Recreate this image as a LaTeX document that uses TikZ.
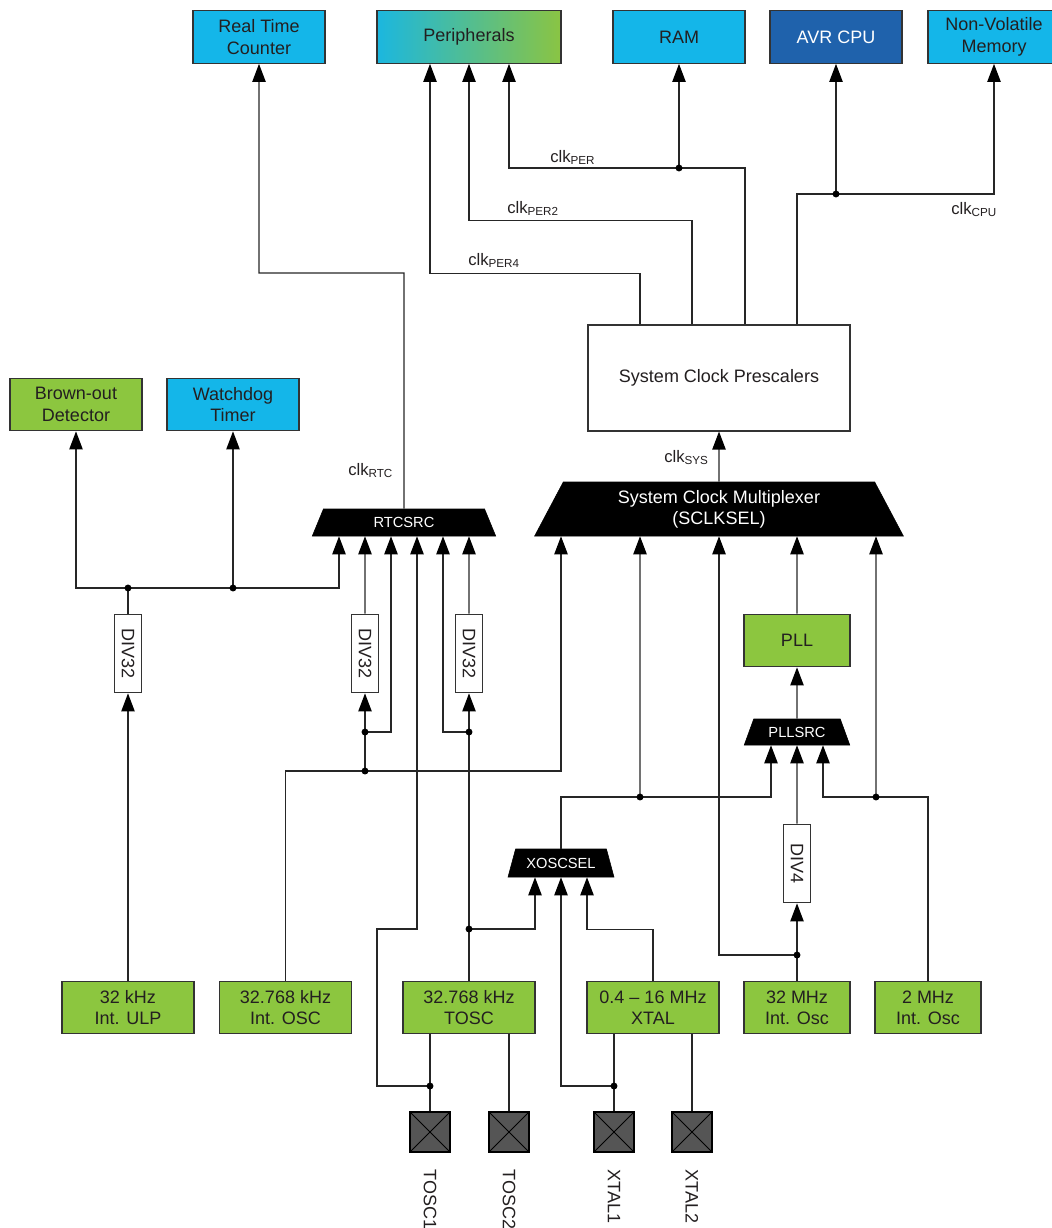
\documentclass[tikz,border=0pt]{standalone}
\usepackage{fontspec}
\setmainfont{Liberation Sans}
\usepackage{graphicx}
\usetikzlibrary{arrows.meta,shapes.geometric,calc}

\definecolor{mchpblue}{HTML}{14B6E9}
\definecolor{mchpgreen}{HTML}{8CC63F}
\definecolor{cpublue}{HTML}{1F62AC}
\definecolor{percyan}{HTML}{1BB7DF}
\definecolor{pergreen}{HTML}{8AC443}
\definecolor{padgray}{HTML}{555555}
\definecolor{txt}{HTML}{231F20}

\newcommand{\clksub}[1]{clk\textsubscript{#1}}

\begin{document}
\begin{tikzpicture}[x=0.75pt, y=-0.75pt, >={Triangle[width=10pt,length=13.5pt,color=black]},
    every node/.style={font=\fontsize{13.5}{16}\selectfont, text=txt},
    box/.style={rectangle, draw=black!80, line width=0.8pt, align=center, inner sep=0pt, minimum width=99pt, minimum height=39.5pt},
    blue box/.style={box, fill=mchpblue},
    green box/.style={box, fill=mchpgreen},
    div box/.style={box, fill=white, minimum width=20pt, minimum height=59pt},
    pad box/.style={rectangle, draw=black, fill=padgray, line width=0.8pt, minimum size=30pt, inner sep=0pt},
    pad label/.style={rotate=-90, anchor=west, inner sep=0pt},
    mux/.style={trapezium, trapezium stretches=true, fill=black, draw=black, text=white, align=center, inner sep=0pt},
    small mux/.style={mux, font=\fontsize{11}{13}\selectfont},
    clk label/.style={anchor=base west, inner sep=0pt, font=\fontsize{12.5}{15}\selectfont},
    wire/.style={draw=black!85, line width=0.9pt},
    feed/.style={wire, ->}]
    \useasboundingbox (0,0) rectangle (1052,1228);

    % consumers
    \node[blue box] (rtc) at (259,37) {Real Time\\Counter};
    \node[box, left color=percyan, right color=pergreen, minimum width=138pt] (per) at (469,37) {Peripherals};
    \node[blue box] (ram) at (679,37) {RAM};
    \node[box, fill=cpublue, text=white] (cpu) at (836,37) {AVR CPU};
    \node[blue box] (nvm) at (994,37) {Non-Volatile\\Memory};
    \node[box, fill=white, minimum width=196.5pt, minimum height=79.5pt] (presc) at (719,378) {System Clock Prescalers};
    \node[green box] (bod) at (76,404.5) {Brown-out\\Detector};
    \node[blue box] (wdt) at (233,404.5) {Watchdog\\Timer};

    % multiplexers and dividers
    \node[mux, minimum width=276.75pt, minimum height=40.5pt, trapezium left angle=64, trapezium right angle=64] (sysmux) at (719,509) {System Clock Multiplexer\\(SCLKSEL)};
    \node[small mux, minimum width=138pt, minimum height=20.25pt, trapezium left angle=68, trapezium right angle=68] (rtcsrc) at (404,522.5) {RTCSRC};
    \node[green box, minimum width=79.5pt] (pll) at (797,640.5) {PLL};
    \node[small mux, minimum width=79.5pt, minimum height=19.5pt, trapezium left angle=59, trapezium right angle=59] (pllsrc) at (797,732) {PLLSRC};
    \node[small mux, minimum width=79.5pt, minimum height=21pt, trapezium left angle=61, trapezium right angle=61] (xoscsel) at (561,863) {XOSCSEL};
    \node[div box] (div32a) at (128,653.5) {\rotatebox{-90}{DIV32}};
    \node[div box] (div32b) at (365,653.5) {\rotatebox{-90}{DIV32}};
    \node[div box] (div32c) at (469,653.5) {\rotatebox{-90}{DIV32}};
    \node[div box] (div4) at (797,863.5) {\rotatebox{-90}{DIV4}};

    % clock sources
    \node[green box] (ulp) at (128,1007.5) {32 kHz\\Int. ULP};
    \node[green box] (osc) at (285.5,1007.5) {32.768 kHz\\Int. OSC};
    \node[green box] (tosc) at (469,1007.5) {32.768 kHz\\TOSC};
    \node[green box] (xtal) at (653,1007.5) {0.4 -- 16 MHz\\XTAL};
    \node[green box, minimum width=79.5pt] (osc32m) at (797,1007.5) {32 MHz\\Int. Osc};
    \node[green box, minimum width=79.5pt] (osc2m) at (928,1007.5) {2 MHz\\Int. Osc};

    % pins
    \node[pad box] (tosc1) at (430,1132) {};
    \node[pad box] (tosc2) at (509,1132) {};
    \node[pad box] (xtal1) at (614,1132) {};
    \node[pad box] (xtal2) at (692,1132) {};
    \foreach \p in {tosc1,tosc2,xtal1,xtal2}
        \draw[line width=0.6pt] (\p.north west) -- (\p.south east) (\p.north east) -- (\p.south west);
    \node[pad label] (ltosc1) at ($(tosc1.south)+(0,17)$) {TOSC1};
    \node[pad label] (ltosc2) at ($(tosc2.south)+(0,17)$) {TOSC2};
    \node[pad label] (lxtal1) at ($(xtal1.south)+(0,17)$) {XTAL1};
    \node[pad label] (lxtal2) at ($(xtal2.south)+(0,17)$) {XTAL2};

    % clock labels
    \node[clk label] (lper) at (550,162) {\clksub{PER}};
    \node[clk label] (lper2) at (507,213) {\clksub{PER2}};
    \node[clk label] (lper4) at (468,265) {\clksub{PER4}};
    \node[clk label] (lcpu) at (951,214) {\clksub{CPU}};
    \node[clk label] (lsys) at (664,462) {\clksub{SYS}};
    \node[clk label] (lrtc) at (348,475) {\clksub{RTC}};

    % junctions
    \coordinate (jram) at (679,168);
    \coordinate (jcpu) at (836,194);
    \coordinate (krtc) at (404,273);
    \coordinate (jbod) at (128,588);
    \coordinate (jwdt) at (233,588);
    \coordinate (josc) at (365,771);
    \coordinate (jdivb) at (365,732);
    \coordinate (jtosc) at (469,929);
    \coordinate (jdivc) at (469,732);
    \coordinate (jt1) at (430,1086);
    \coordinate (kt1) at (377,929);
    \coordinate (jx1) at (614,1086);
    \coordinate (jxo) at (640,797);
    \coordinate (j32m) at (797,955);
    \coordinate (j2m) at (876,797);

    % prescaler outputs
    \draw[feed] ($(presc.north)+(26,0)$) |- (jram) -| ($(per.south)+(40,0)$);
    \draw[feed] (jram) -- (ram.south);
    \draw[feed] ($(presc.north)+(-27,0)$) |- ($(per.south)+(0,157)$) -- (per.south);
    \draw[feed] ($(presc.north)+(-79,0)$) |- ($(per.south)+(-39,210)$) -- ($(per.south)+(-39,0)$);
    \draw[feed] ($(presc.north)+(78,0)$) |- (jcpu) -| (nvm.south);
    \draw[feed] (jcpu) -- (cpu.south);
    \draw[feed] (sysmux.north) -- (presc.south);
    \draw[feed] (rtcsrc.north) -- (krtc) -| (rtc.south);

    % RTC clock sources
    \draw[feed] (ulp.north) -- (div32a.south);
    \draw[wire] (div32a.north) -- (jbod);
    \draw[feed] (jbod) -| (bod.south);
    \draw[feed] (jbod) -| ($(rtcsrc.south)+(-65,0)$);
    \draw[feed] (jwdt) -- (wdt.south);
    \draw[feed] (osc.north) |- (josc) -| ($(sysmux.south)+(-158,0)$);
    \draw[feed] (josc) -- (div32b.south);
    \draw[feed] (jdivb) -| ($(rtcsrc.south)+(-13,0)$);
    \draw[feed] (div32b.north) -- ($(rtcsrc.south)+(-39,0)$);
    \draw[feed] (tosc.north) -- (div32c.south);
    \draw[feed] (jdivc) -| ($(rtcsrc.south)+(39,0)$);
    \draw[feed] (div32c.north) -- ($(rtcsrc.south)+(65,0)$);
    \draw[feed] (jtosc) -| ($(xoscsel.south)+(-26,0)$);

    % crystal pins
    \draw[wire] ($(tosc.south)+(-39,0)$) -- (tosc1.north);
    \draw[wire] ($(tosc.south)+(40,0)$) -- (tosc2.north);
    \draw[feed] (jt1) -| (kt1) -| ($(rtcsrc.south)+(13,0)$);
    \draw[wire] ($(xtal.south)+(-39,0)$) -- (xtal1.north);
    \draw[wire] ($(xtal.south)+(39,0)$) -- (xtal2.north);
    \draw[feed] (jx1) -| (xoscsel.south);
    \draw[feed] (xtal.north) |- ($(xoscsel.south)+(26,52)$) -- ($(xoscsel.south)+(26,0)$);

    % system clock sources
    \draw[feed] (xoscsel.north) |- (jxo) -| ($(pllsrc.south)+(-26,0)$);
    \draw[feed] (jxo) -- ($(sysmux.south)+(-79,0)$);
    \draw[feed] (osc32m.north) -- (div4.south);
    \draw[feed] (j32m) -| (sysmux.south);
    \draw[feed] (div4.north) -- (pllsrc.south);
    \draw[feed] (pllsrc.north) -- (pll.south);
    \draw[feed] (pll.north) -- ($(sysmux.south)+(78,0)$);
    \draw[feed] (osc2m.north) |- (j2m) -| ($(pllsrc.south)+(26,0)$);
    \draw[feed] (j2m) -- ($(sysmux.south)+(157,0)$);

    \foreach \j in {jram,jcpu,jbod,jwdt,josc,jdivb,jdivc,jtosc,jt1,jx1,jxo,j32m,j2m}
        \fill[black] (\j) circle (2.6pt);
\end{tikzpicture}
\end{document}
